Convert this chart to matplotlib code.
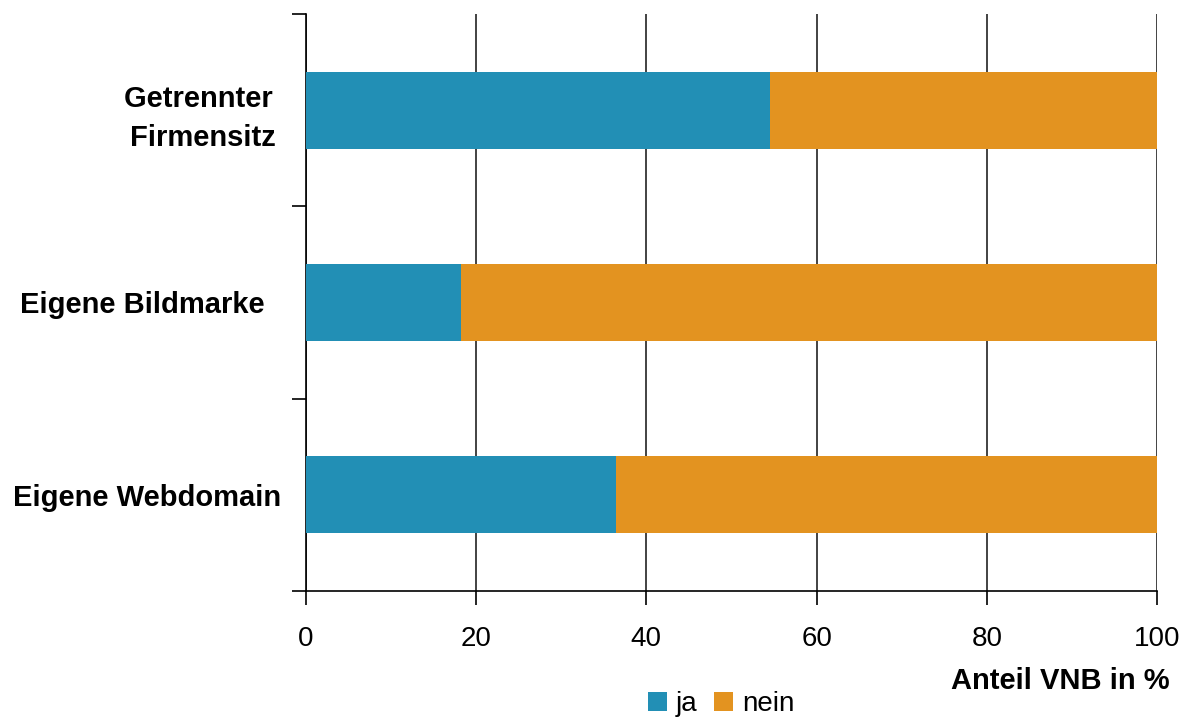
import numpy as np
import matplotlib.pyplot as plt

plt.rcParams['font.family'] = ['Liberation Sans', 'DejaVu Sans']

categories = ["Getrennter \nFirmensitz", "Eigene Bildmarke  ", "Eigene Webdomain"]
ja = [54.5, 18.2, 36.4]
nein = [45.5, 81.8, 63.6]
xticks = [0, 20, 40, 60, 80, 100]

blue = "#228FB5"
orange = "#E39320"

fig = plt.figure(figsize=(11.84, 7.18), dpi=100)
ax = fig.add_axes([0.2584, 0.1769, 0.9772 - 0.2584, 0.9805 - 0.1769])

y = np.arange(len(categories))
ax.barh(y, ja, height=0.4, color=blue, label="ja", zorder=3)
ax.barh(y, nein, left=ja, height=0.4, color=orange, label="nein", zorder=3)

ax.set_xlim(0, 100)
ax.set_ylim(len(categories) - 0.5, -0.5)

ax.set_xticks(xticks)
ax.set_xticklabels([str(t) for t in xticks], fontsize=20)
ax.tick_params(axis='x', length=10, width=1.2, pad=15, color='black')
ax.xaxis.grid(True, color='#222222', linewidth=1.2, zorder=0)

# y: ticks at category boundaries, labels at centres
ax.set_yticks(np.arange(len(categories) + 1) - 0.5)
ax.set_yticklabels([])
ax.tick_params(axis='y', which='major', length=10, width=1.2, color='black')
ax.set_yticks(y, minor=True)
ax.set_yticklabels(categories, minor=True, fontsize=21, fontweight='bold',
                   multialignment='center', linespacing=1.5)
ax.tick_params(axis='y', which='minor', length=0, pad=18)

for s in ['top', 'right']:
    ax.spines[s].set_visible(False)
ax.spines['left'].set_linewidth(1.2)
ax.spines['bottom'].set_linewidth(1.2)

fig.text(1170 / 1184, 1 - 681 / 718, "Anteil VNB in %", fontsize=21,
         fontweight='bold', ha='right', va='center')

fig.legend(loc='center', bbox_to_anchor=(721 / 1184, 1 - 704 / 718), ncol=2,
           frameon=False, fontsize=20, handlelength=0.7, handleheight=0.7,
           handletextpad=0.3, columnspacing=0.6, borderaxespad=0)

fig.savefig("out.png", dpi=100)
